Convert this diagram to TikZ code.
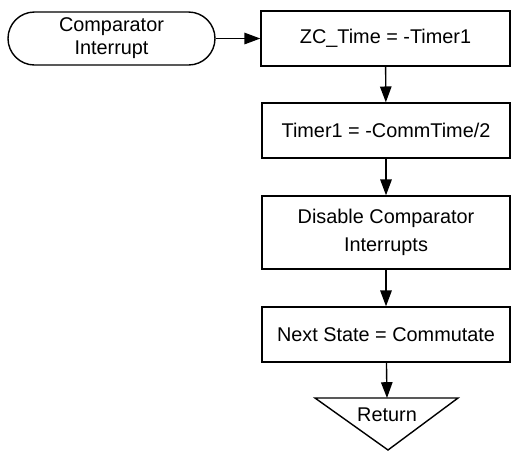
\documentclass[tikz,border=0pt]{standalone}
\usepackage{fontspec}
\setmainfont{Liberation Sans}
\usetikzlibrary{arrows.meta}

\begin{document}
\begin{tikzpicture}[
    terminal/.style = {draw, line width=0.8pt, rounded corners=0.53cm, minimum width=4.14cm, minimum height=1.06cm, align=center, font=\fontsize{11.3}{13}\selectfont},
    bloc/.style = {draw, line width=0.8pt, minimum width=4.96cm, minimum height=1.10cm, align=center, font=\fontsize{11.3}{16}\selectfont},
    retour/.style = {inner sep=0pt, font=\fontsize{11.3}{13}\selectfont},
    >={Triangle[length=9pt,width=6.5pt]}, line width=0.8pt]
            \useasboundingbox (0,0) rectangle (10.22,-9.02);
            % Blocs
            \node[terminal] (1) at (2.23,-0.77) {Comparator\\Interrupt};

            \node[bloc, minimum width=4.98cm] (2) at (7.71,-0.77) {ZC\_Time = -Timer1};

            \node[bloc] (3) at (7.72,-2.61) {Timer1 = -CommTime/2};

            \node[bloc, minimum height=1.46cm] (4) at (7.72,-4.65) {Disable Comparator\\Interrupts};

            \node[bloc] (5) at (7.72,-6.69) {Next State = Commutate};

            \node[retour] (6) at (7.74,-8.30) {Return};
            \coordinate (6h) at (7.74,-7.96);

            % Triangle de retour
            \draw[line join=miter] (6.30,-7.96) -- (9.16,-7.96) -- (7.76,-9.00) -- cycle;

            % Flèches
            \draw[->] (1) -- (2);
            \draw[->] (2) -- (3);
            \draw[->] (3) -- (4);
            \draw[->] (4) -- (5);
            \draw[->] (5) -- (6h);
        \end{tikzpicture}
\end{document}
